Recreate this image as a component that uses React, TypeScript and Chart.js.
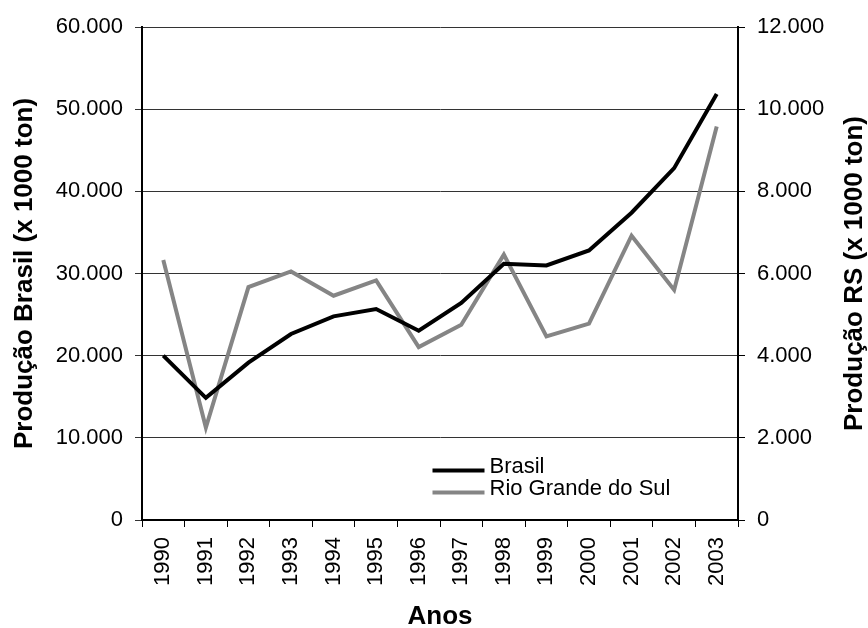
import React, { useEffect, useRef } from "react";
import { Chart, registerables } from "chart.js";

Chart.register(...registerables);

const years = ["1990","1991","1992","1993","1994","1995","1996","1997","1998","1999","2000","2001","2002","2003"];
const brasil = [20000, 14860, 19150, 22640, 24780, 25680, 23040, 26410, 31190, 30980, 32800, 37400, 42820, 51850];
const rioGrandeDoSul = [6330, 2250, 5670, 6050, 5460, 5830, 4210, 4750, 6460, 4470, 4780, 6920, 5600, 9580];
const seriesNames = ["Brasil", "Rio Grande do Sul"];
const leftTitle = "Produção Brasil (x 1000 ton)";
const rightTitle = "Produção RS (x 1000 ton)";
const xTitle = "Anos";

const FONT = "'Liberation Sans', Arial, sans-serif";
const GRAY = "#858585";

const fmt = (v: number) => {
  const s = Math.round(v).toString();
  return s.replace(/\B(?=(\d{3})+(?!\d))/g, ".");
};

const overlayPlugin = {
  id: "overlay",
  afterDraw(chart: any) {
    const ctx = chart.ctx;
    const ca = chart.chartArea;
    ctx.save();
    // legend
    const lx = ca.left + 290.5;
    const rows = [
      { color: "#000", y: ca.bottom - 49.5, label: seriesNames[0] },
      { color: GRAY, y: ca.bottom - 27.5, label: seriesNames[1] },
    ];
    ctx.font = `22px ${FONT}`;
    ctx.textAlign = "left";
    ctx.textBaseline = "alphabetic";
    for (const r of rows) {
      ctx.strokeStyle = r.color;
      ctx.lineWidth = 4;
      ctx.beginPath();
      ctx.moveTo(lx, r.y);
      ctx.lineTo(lx + 52, r.y);
      ctx.stroke();
      ctx.fillStyle = "#000";
      ctx.fillText(r.label, lx + 57, r.y + 2);
    }
    // right axis title, reading bottom to top
    ctx.translate(855, (ca.top + ca.bottom) / 2);
    ctx.rotate(-Math.PI / 2);
    ctx.font = `bold 26px ${FONT}`;
    ctx.textAlign = "center";
    ctx.textBaseline = "middle";
    ctx.fillStyle = "#000";
    ctx.fillText(rightTitle, 0, 0);
    ctx.restore();
  },
};

export default function App() {
  const ref = useRef<HTMLCanvasElement | null>(null);
  useEffect(() => {
    document.body.style.margin = "0";
    const chart = new Chart(ref.current as HTMLCanvasElement, {
      type: "line",
      data: {
        labels: years,
        datasets: [
          {
            label: seriesNames[0],
            data: brasil,
            borderColor: "#000",
            backgroundColor: "#000",
            borderWidth: 4,
            pointRadius: 0,
            tension: 0,
            yAxisID: "y",
          },
          {
            label: seriesNames[1],
            data: rioGrandeDoSul,
            borderColor: GRAY,
            backgroundColor: GRAY,
            borderWidth: 4,
            pointRadius: 0,
            tension: 0,
            yAxisID: "y1",
          },
        ],
      },
      options: {
        animation: false,
        responsive: false,
        layout: { padding: { top: 27, left: 0, right: 0, bottom: 0 } },
        plugins: {
          legend: { display: false },
          tooltip: { enabled: false },
        },
        scales: {
          x: {
            type: "category",
            offset: true,
            grid: {
              offset: true,
              drawOnChartArea: false,
              drawTicks: true,
              tickLength: 7,
              color: "#000",
              lineWidth: 1,
            },
            border: { color: "#000", width: 2 },
            ticks: {
              minRotation: 90,
              maxRotation: 90,
              padding: 10,
              color: "#000",
              font: { family: FONT, size: 22 },
              autoSkip: false,
            },
            title: {
              display: true,
              text: xTitle,
              color: "#000",
              font: { family: FONT, size: 26, weight: "bold" },
              padding: { top: 0, bottom: -4 },
            },
            afterFit(scale: any) {
              scale.height = 108;
            },
          },
          y: {
            position: "left",
            min: 0,
            max: 60000,
            ticks: {
              stepSize: 10000,
              padding: 12,
              color: "#000",
              font: { family: FONT, size: 22 },
              callback: (v: any) => fmt(Number(v)),
            },
            grid: {
              color: "#333",
              lineWidth: 1,
              drawTicks: true,
              tickLength: 7,
            },
            border: { color: "#000", width: 2 },
            title: {
              display: true,
              text: leftTitle,
              color: "#000",
              font: { family: FONT, size: 26, weight: "bold" },
              padding: { top: 9, bottom: 0 },
            },
            afterFit(scale: any) {
              scale.width = 142;
            },
          },
          y1: {
            position: "right",
            min: 0,
            max: 12000,
            ticks: {
              stepSize: 2000,
              padding: 12,
              color: "#000",
              font: { family: FONT, size: 22 },
              callback: (v: any) => fmt(Number(v)),
            },
            grid: {
              drawOnChartArea: false,
              drawTicks: true,
              tickLength: 7,
              color: "#000",
              lineWidth: 1,
            },
            border: { color: "#000", width: 2 },
            afterFit(scale: any) {
              scale.width = 130;
            },
          },
        },
      },
      plugins: [overlayPlugin],
    } as any);
    return () => chart.destroy();
  }, []);
  return (
    <div style={{ position: "absolute", left: 0, top: 0, width: 868, height: 628, background: "#fff" }}>
      <canvas ref={ref} width={868} height={628} />
    </div>
  );
}
